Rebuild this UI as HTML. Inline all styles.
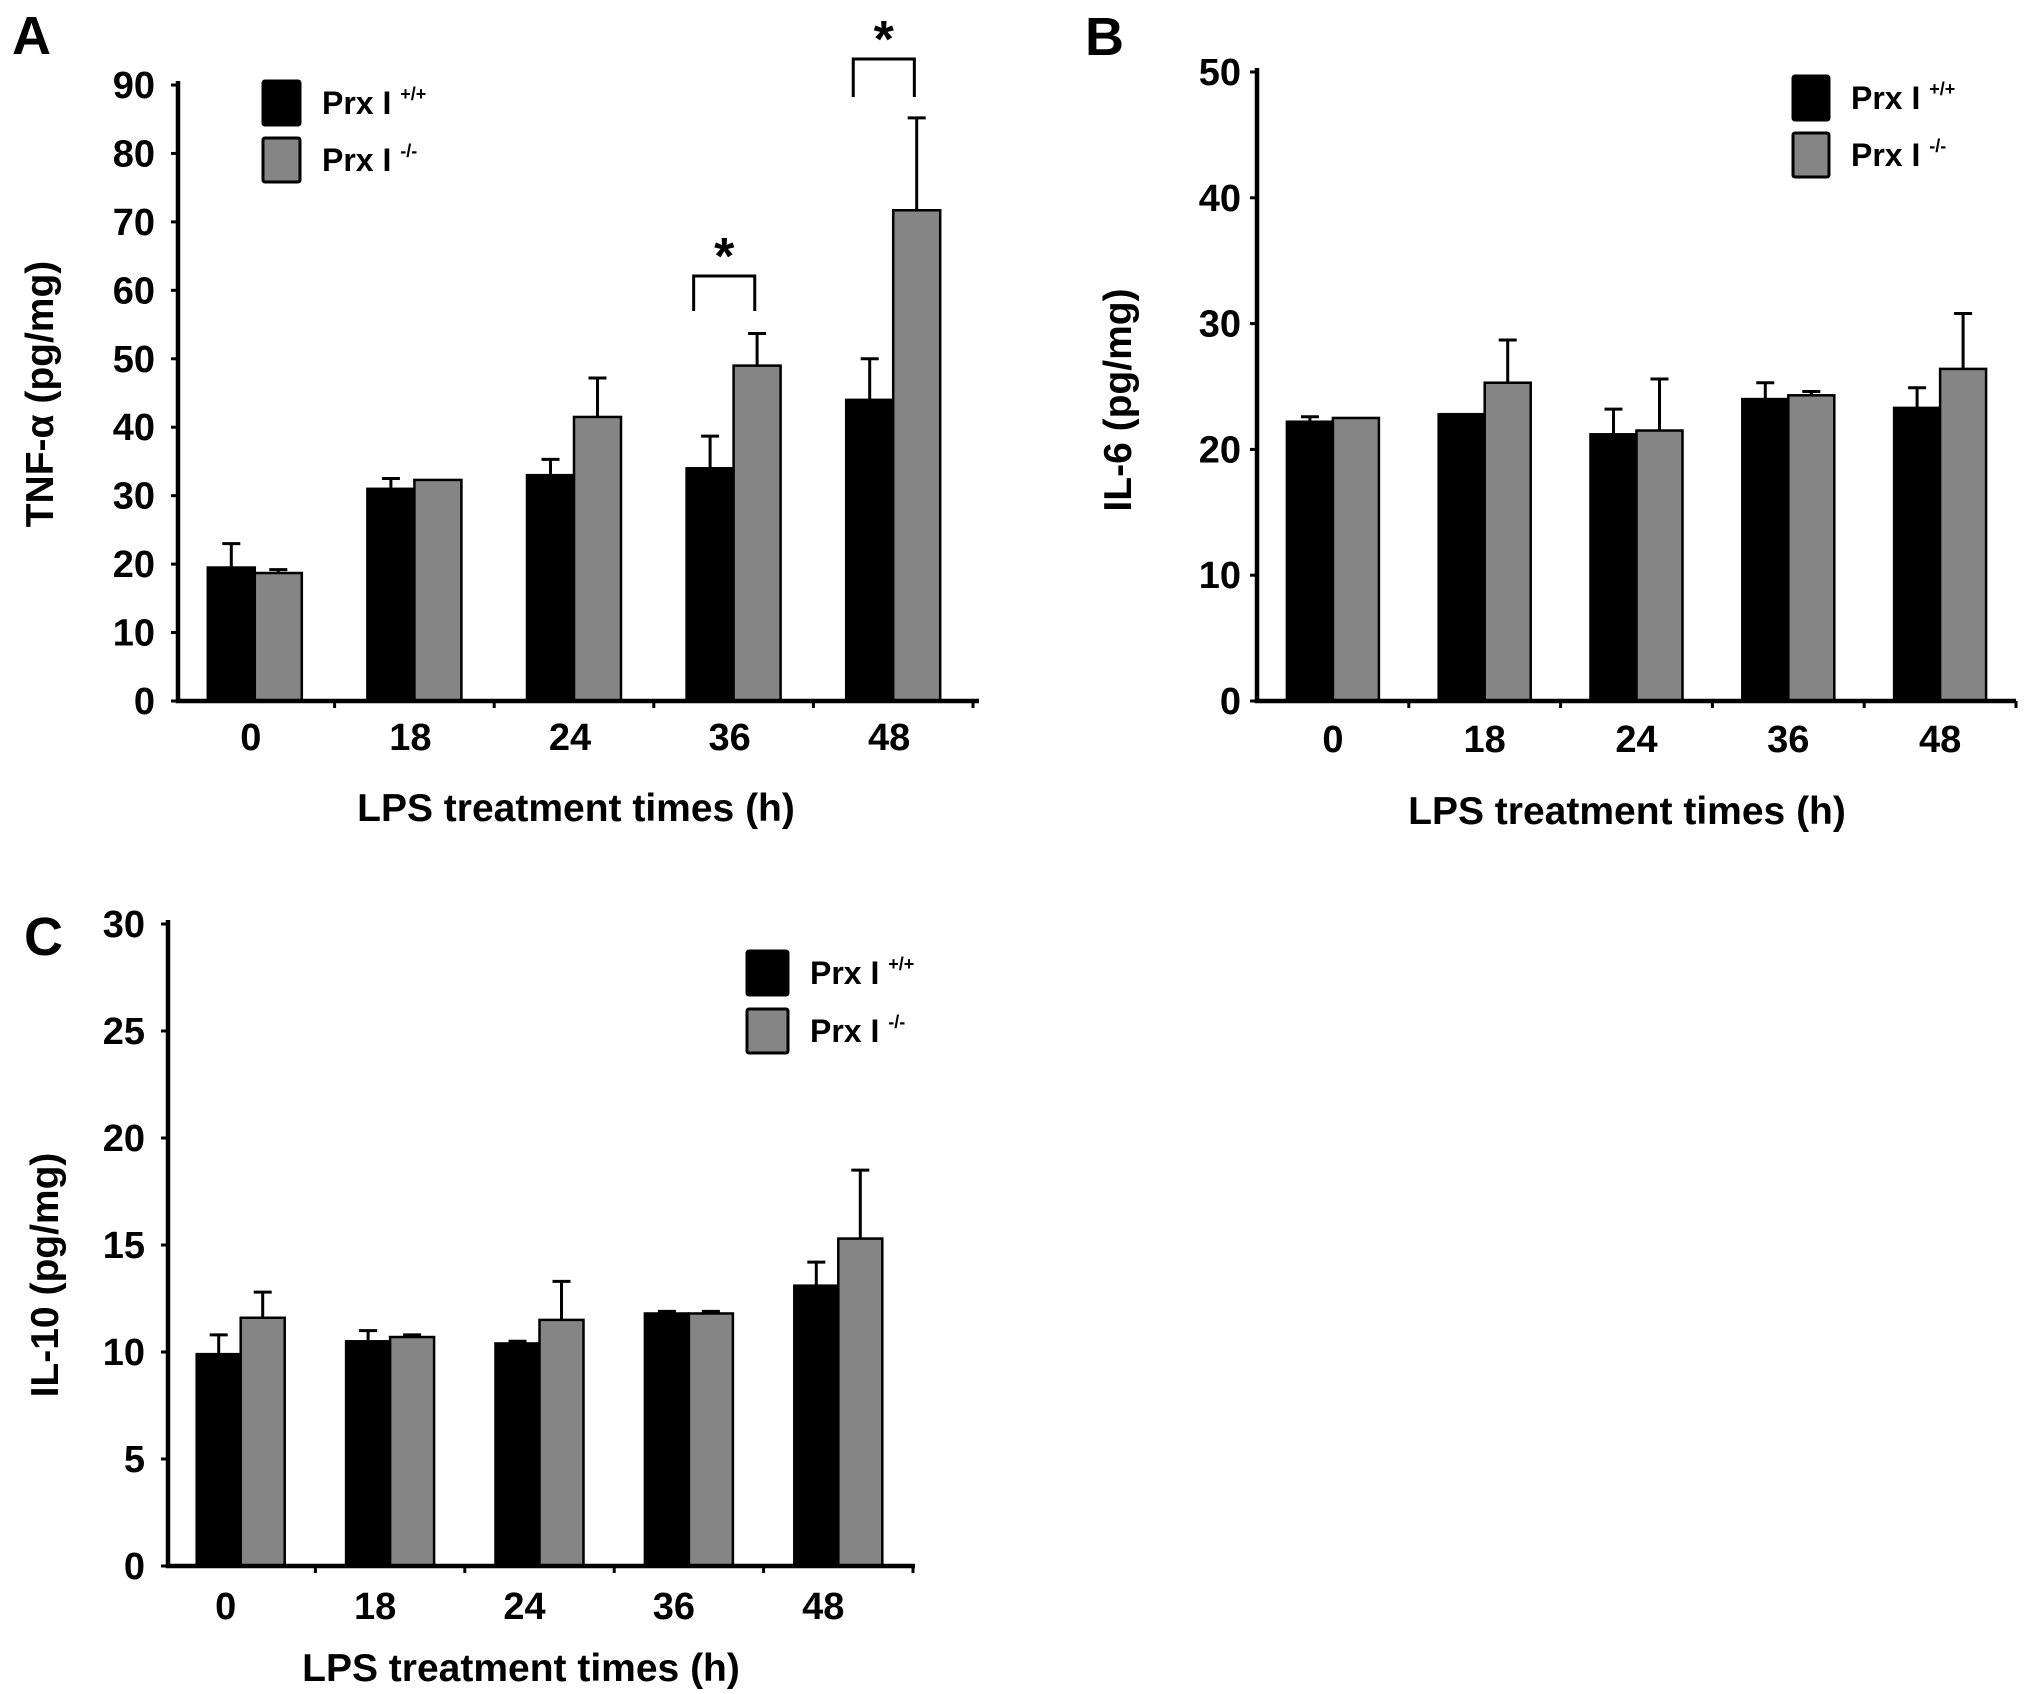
<!DOCTYPE html>
<html><head><meta charset="utf-8"><style>
html,body{margin:0;padding:0;background:#fff;}
svg{display:block;font-family:"Liberation Sans",Arial,sans-serif;font-weight:bold;}
</style></head><body>
<svg id="fig" width="2031" height="1694" viewBox="0 0 2031 1694"></svg>
<script>
const categories = ["0","18","24","36","48"];
const tnfWT = [19.5, 31, 33, 34, 44];
const tnfWTerr = [3.5, 1.5, 2.3, 4.7, 6];
const tnfKO = [18.7, 32.3, 41.5, 49, 71.7];
const tnfKOerr = [0.5, 0, 5.7, 4.7, 13.5];
const tnfTicks = [0,10,20,30,40,50,60,70,80,90];
const il6WT = [22.2, 22.8, 21.2, 24, 23.3];
const il6WTerr = [0.4, 0, 2, 1.3, 1.6];
const il6KO = [22.5, 25.3, 21.5, 24.3, 26.4];
const il6KOerr = [0, 3.4, 4.1, 0.3, 4.4];
const il6Ticks = [0,10,20,30,40,50];
const il10WT = [9.9, 10.5, 10.4, 11.8, 13.1];
const il10WTerr = [0.9, 0.5, 0.1, 0.1, 1.1];
const il10KO = [11.6, 10.7, 11.5, 11.8, 15.3];
const il10KOerr = [1.2, 0.1, 1.8, 0.1, 3.2];
const il10Ticks = [0,5,10,15,20,25,30];

const NS="http://www.w3.org/2000/svg";
const svg=document.getElementById('fig');
function mk(tag,attrs,parent){const e=document.createElementNS(NS,tag);for(const k in attrs)e.setAttribute(k,attrs[k]);(parent||svg).appendChild(e);return e;}

function panel(cfg){
  const g=mk('g',{});
  
  
  const yS=v=>cfg.y0-(v/cfg.max)*(cfg.y0-cfg.yTop);
  const band=(cfg.bR-cfg.bL)/categories.length;
  const cx=i=>cfg.bL+band*(i+0.5);
  const bw=cfg.bw;
  function series(vals,errs,fill,off,nm){
    vals.forEach((v,i)=>{
      const bx= off<0 ? cx(i)-bw : cx(i);
      const r=mk('rect',{x:bx,y:yS(v),width:bw,height:cfg.y0-yS(v),fill:fill,stroke:'#000','stroke-width':2.5},g);
      
      
      const ex=bx+bw/2;
      if(errs[i]>0){
        const l=mk('path',{d:`M${ex},${yS(v)} V${yS(v+errs[i])} M${ex-9},${yS(v+errs[i])} H${ex+9}`,stroke:'#000','stroke-width':3,fill:'none'},g);
        
        
      }
    });
  }
  series(cfg.wt,cfg.wtErr,'#000',-1,'wt');
  series(cfg.ko,cfg.koErr,'#858585',1,'ko');
  const ax=mk('path',{d:`M${cfg.xL},${cfg.yTop-4} V${cfg.y0} H${cfg.xR}`,stroke:'#000','stroke-width':4.5,fill:'none'},g);
  
  
  cfg.ticks.forEach(t=>{
    const tk=mk('line',{x1:cfg.xL-7,x2:cfg.xL,y1:yS(t),y2:yS(t),stroke:'#000','stroke-width':3},g);
    
    
    const tx=mk('text',{x:cfg.tickR,y:yS(t)+13,'text-anchor':'end','font-size':38},g);
    tx.textContent=t;
    
    
  });
  for(let i=1;i<=categories.length;i++){
    const tk=mk('line',{x1:cfg.bL+band*i,x2:cfg.bL+band*i,y1:cfg.y0,y2:cfg.y0+7,stroke:'#000','stroke-width':3},g);
    
    
  }
  categories.forEach((c,i)=>{
    const tx=mk('text',{x:cx(i)+cfg.labShift,y:cfg.xLabY+14,'text-anchor':'middle','font-size':38},g);
    tx.textContent=c;
    
    
  });
  const xt=mk('text',{x:cfg.xTitleX,y:cfg.xTitleY+14,'text-anchor':'middle','font-size':39},g);
  xt.textContent='LPS treatment times (h)';
  
  
  const yt=mk('text',{x:0,y:0,'text-anchor':'middle','font-size':39,transform:`translate(${cfg.yTitleX+14},${cfg.yTitleY}) rotate(-90)`},g);
  yt.textContent=cfg.yTitle;
  
  
  const pl=mk('text',{x:cfg.labX,y:cfg.labY,'font-size':54},g);
  pl.textContent=cfg.id.toUpperCase();
  
  
  [['#000','+/+'],['#858585','-/-']].forEach((L,j)=>{
    const by=cfg.legY+j*cfg.legGap;
    const b=mk('rect',{x:cfg.legX,y:by,width:cfg.legW,height:44,fill:L[0],stroke:'#000','stroke-width':3,rx:2},g);
    
    
    const t=mk('text',{x:cfg.legX+cfg.legW+22,y:by+33,'font-size':32},g);
    
    
    t.appendChild(document.createTextNode('Prx I '));
    const s=mk('tspan',{'font-size':18,dy:-14},t);s.textContent=L[1];
  });
  return {yS,cx,bw,g};
}

const A=panel({id:'a',xL:178,xR:979,bL:175,bR:973,yTop:85,y0:701,max:90,bw:47,wt:tnfWT,wtErr:tnfWTerr,ko:tnfKO,koErr:tnfKOerr,ticks:tnfTicks,
  tickR:155,xLabY:736,labShift:-4,xTitleX:576,xTitleY:807,yTitleX:39,yTitleY:394,yTitle:'TNF-α (pg/mg)',labX:12,labY:54,legX:263,legY:81,legGap:57,legW:37});
function bracket(i,yTopPx,yLeg){
  const x1=A.cx(i)-A.bw*0.85, x2=A.cx(i)+A.bw*0.45;
  const p=mk('path',{d:`M${x1},${yLeg} V${yTopPx} H${x2} V${yLeg}`,stroke:'#000','stroke-width':3,fill:'none'},A.g);
  
  
  const s=mk('text',{x:(x1+x2)/2,y:yTopPx-2,'text-anchor':'middle','font-size':52},A.g);
  s.textContent='*';
  
  
}
bracket(3,276,311);
bracket(4,59,97);

panel({id:'b',xL:1257,xR:2016,bL:1257,bR:2016,yTop:72,y0:701,max:50,bw:46,wt:il6WT,wtErr:il6WTerr,ko:il6KO,koErr:il6KOerr,ticks:il6Ticks,
  tickR:1241,xLabY:738,labShift:0,xTitleX:1627,xTitleY:810,yTitleX:1117,yTitleY:400,yTitle:'IL-6 (pg/mg)',labX:1085,labY:55,legX:1793,legY:76,legGap:57,legW:36});

panel({id:'c',xL:168,xR:915,bL:166,bR:913,yTop:924,y0:1566,max:30,bw:44,wt:il10WT,wtErr:il10WTerr,ko:il10KO,koErr:il10KOerr,ticks:il10Ticks,
  tickR:145,xLabY:1605,labShift:-15,xTitleX:521,xTitleY:1667,yTitleX:44,yTitleY:1275,yTitle:'IL-10 (pg/mg)',labX:24,labY:955,legX:747,legY:951,legGap:58,legW:41});
</script>
</body></html>
